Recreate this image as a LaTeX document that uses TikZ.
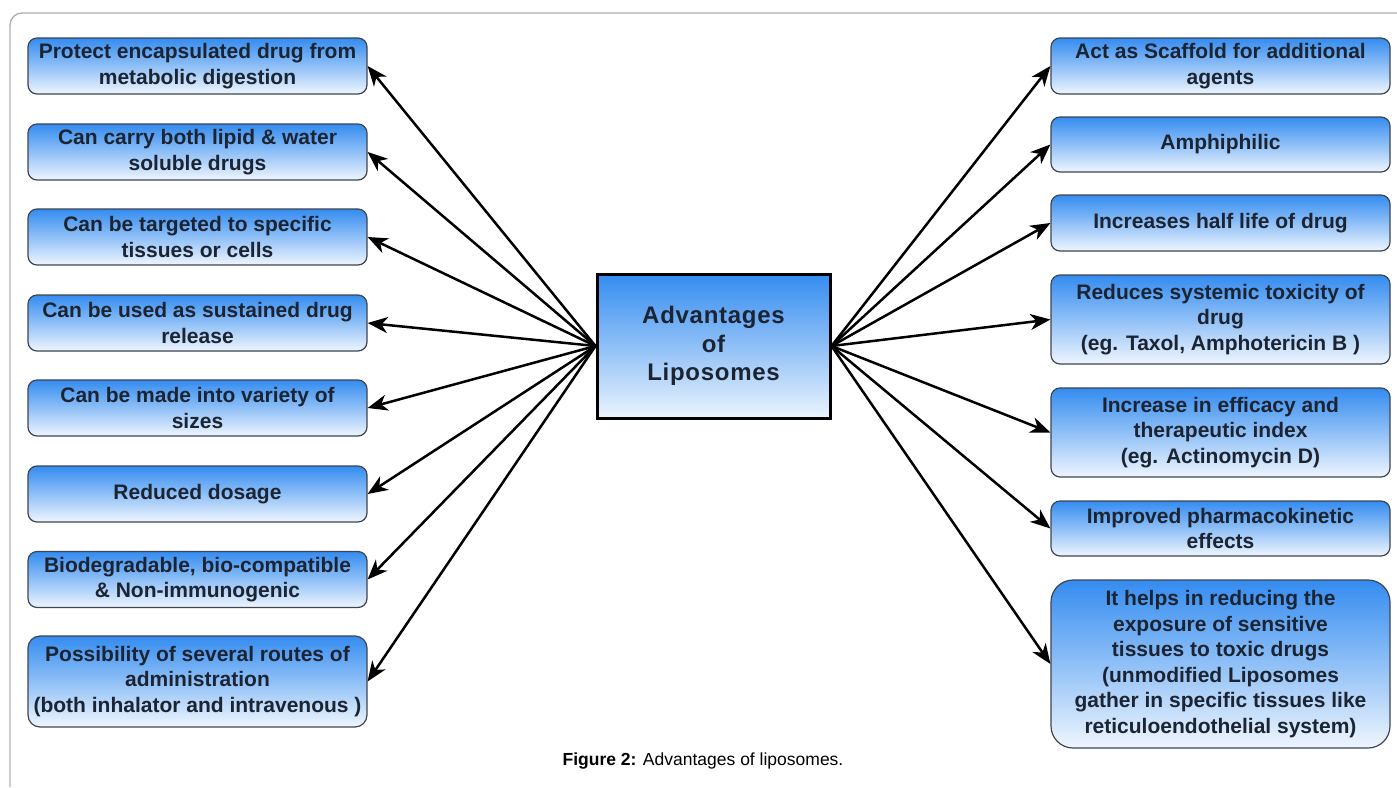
\documentclass[tikz,border=0pt]{standalone}
\usepackage{fontspec}
\setmainfont{Liberation Sans}
\usetikzlibrary{arrows.meta}
\definecolor{boxblue}{RGB}{52,140,240}
\definecolor{ink}{RGB}{28,36,50}
\definecolor{framegray}{RGB}{175,175,175}
\tikzset{adv/.style={draw=ink!85, line width=1.2pt, rounded corners=9pt,
    top color=boxblue, bottom color=white!92!boxblue, middle color=boxblue!55!white,
    minimum width=339pt, minimum height=56pt, inner sep=0pt, align=center,
    text=ink, font=\fontsize{21}{25.5}\selectfont\bfseries}}
\tikzset{hub/.style={draw=black, line width=3pt,
    top color=boxblue, bottom color=white!90!boxblue, middle color=boxblue!55!white,
    minimum width=233pt, minimum height=144pt, align=center,
    text=ink, font=\fontsize{24}{28.5}\selectfont\bfseries\addfontfeature{LetterSpace=3}}}
\tikzset{link/.style={-{Stealth[length=20pt,width=16pt,inset=6pt]}, line width=2.5pt}}

\begin{document}
\begin{tikzpicture}[x=1pt,y=-1pt]
\useasboundingbox (0,0) rectangle (1397,787);
\draw[framegray, line width=1.3pt, rounded corners=12pt] (10,787) -- (10,13) -- (1397,13);
\node[hub] (hub) at (713.5,346) {Advantages\\of\\Liposomes};
% left side
\node[adv] (l1) at (197.5,66) {Protect encapsulated drug from\\metabolic digestion};
\node[adv] (l2) at (197.5,152) {Can carry both lipid \& water\\soluble drugs};
\node[adv] (l3) at (197.5,237) {Can be targeted to specific\\tissues or cells};
\node[adv] (l4) at (197.5,323) {Can be used as sustained drug\\release};
\node[adv] (l5) at (197.5,408) {Can be made into variety of\\sizes};
\node[adv] (l6) at (197.5,494) {Reduced dosage};
\node[adv] (l7) at (197.5,579.5) {Biodegradable, bio-compatible\\\& Non-immunogenic};
\node[adv, minimum height=91pt, rounded corners=12pt] (l8) at (197.5,681.5) {Possibility of several routes of\\administration\\(both inhalator and intravenous )};
% right side
\node[adv] (r1) at (1220.5,66) {Act as Scaffold for additional\\agents};
\node[adv, minimum height=55pt] (r2) at (1220.5,144.5) {Amphiphilic};
\node[adv] (r3) at (1220.5,223) {Increases half life of drug};
\node[adv, minimum height=89pt] (r4) at (1220.5,319.5) {Reduces systemic toxicity of\\drug\\(eg. Taxol, Amphotericin B )};
\node[adv, minimum height=89pt] (r5) at (1220.5,432.5) {Increase in efficacy and\\therapeutic index\\(eg. Actinomycin D)};
\node[adv, minimum height=55pt] (r6) at (1220.5,528.5) {Improved pharmacokinetic\\effects};
\node[adv, minimum height=168pt, rounded corners=22pt] (r7) at (1220.5,664) {It helps in reducing the\\exposure of sensitive\\tissues to toxic drugs\\(unmodified Liposomes\\gather in specific tissues like\\reticuloendothelial system)};
\foreach \n in {l1,l2,l3,l4,l5,l6,l7,l8}
  \draw[link] (hub.west) -- (\n.east);
\foreach \n in {r1,r2,r3,r4,r5,r6,r7}
  \draw[link] (hub.east) -- (\n.west);
\node (cap) at (703,761) {\fontsize{17.5}{20}\selectfont\textbf{Figure 2:} Advantages of liposomes.};
\end{tikzpicture}
\end{document}
